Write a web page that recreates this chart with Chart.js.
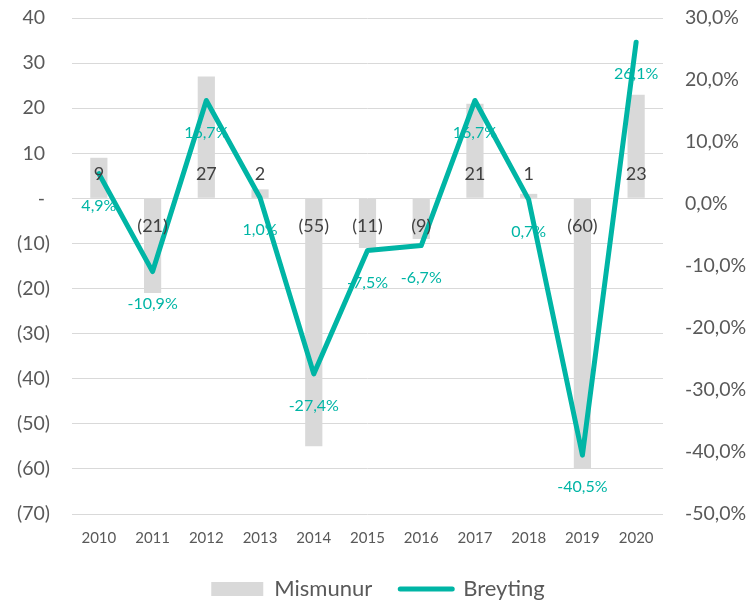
<!DOCTYPE html>
<html>
<head>
<meta charset="utf-8">
<script src="https://cdn.jsdelivr.net/npm/chart.js@4/dist/chart.umd.min.js"></script>
<style>
html,body{margin:0;padding:0;background:#fff;}
#wrap{width:756px;height:601px;}
</style>
</head>
<body>
<div id="wrap"><canvas id="c" width="756" height="601"></canvas></div>
<script>
const categories = ['2010','2011','2012','2013','2014','2015','2016','2017','2018','2019','2020'];
const mismunur = [9, -21, 27, 2, -55, -11, -9, 21, 1, -60, 23];
const breyting = [4.9, -10.9, 16.7, 1.0, -27.4, -7.5, -6.7, 16.7, 0.7, -40.5, 26.1];
const leftTicks = [40, 30, 20, 10, 0, -10, -20, -30, -40, -50, -60, -70];
const rightTicks = [30, 20, 10, 0, -10, -20, -30, -40, -50];

const FONT = 'Lato, "Open Sans", sans-serif';
const TEAL = '#00b5a5';
const GREY_BAR = '#d9d9d9';
const TXT = '#595959';

function fmtLeft(v){
  if (v === 0) return '-';
  if (v < 0) return '(' + Math.abs(v) + ')';
  return String(v);
}
function fmtLeftAxis(v){
  // accounting style: non-negative values leave room for the closing parenthesis
  return v < 0 ? fmtLeft(v) : fmtLeft(v) + ' ';
}
function fmtPct(v){
  return v.toFixed(1).replace('.', ',') + '%';
}

const labelPlugin = {
  id: 'labels',
  afterDatasetsDraw(chart){
    const ctx = chart.ctx;
    const x = chart.scales.x, yl = chart.scales.y, yr = chart.scales.y1;
    const zero = yl.getPixelForValue(0);
    ctx.save();
    ctx.textAlign = 'center';
    ctx.textBaseline = 'middle';
    ctx.font = '18px ' + FONT;
    ctx.fillStyle = '#404040';
    mismunur.forEach((v, i) => {
      const px = x.getPixelForValue(i);
      const py = v >= 0 ? zero - 24 : zero + 28;
      ctx.fillText(fmtLeft(v), px, py);
    });
    ctx.font = '16px ' + FONT;
    ctx.fillStyle = TEAL;
    breyting.forEach((v, i) => {
      const px = x.getPixelForValue(i);
      const py = yr.getPixelForValue(v) + 32;
      ctx.fillText(fmtPct(v), px, py);
    });
    ctx.restore();
  }
};

function fixY(width){
  return function(s){ s.width = width; s.paddingTop = 0; s.paddingBottom = 0; };
}

new Chart(document.getElementById('c'), {
  data: {
    labels: categories,
    datasets: [
      {
        type: 'line',
        label: 'Breyting',
        data: breyting,
        yAxisID: 'y1',
        borderColor: TEAL,
        backgroundColor: TEAL,
        borderWidth: 5,
        pointRadius: 0,
        tension: 0,
        borderCapStyle: 'round',
        borderJoinStyle: 'round',
        order: 0
      },
      {
        type: 'bar',
        label: 'Mismunur',
        data: mismunur,
        yAxisID: 'y',
        backgroundColor: GREY_BAR,
        categoryPercentage: 1.0,
        barPercentage: 0.32,
        order: 1
      }
    ]
  },
  options: {
    responsive: false,
    animation: false,
    devicePixelRatio: 1,
    layout: { padding: { top: 18, bottom: -9, left: 0, right: 0 } },
    plugins: {
      tooltip: { enabled: false },
      legend: {
        position: 'bottom',
        reverse: true,
        labels: {
          font: { family: FONT, size: 22 },
          color: TXT,
          usePointStyle: true,
          pointStyleWidth: 52,
          boxHeight: 14,
          padding: 28,
          generateLabels(chart){
            return [
              { text: 'Breyting', datasetIndex: 0, pointStyle: 'line', strokeStyle: TEAL, fillStyle: TEAL, lineWidth: 5, lineCap: 'round', fontColor: TXT, hidden: false },
              { text: 'Mismunur', datasetIndex: 1, pointStyle: 'rect', strokeStyle: GREY_BAR, fillStyle: GREY_BAR, lineWidth: 0, fontColor: TXT, hidden: false }
            ];
          }
        }
      }
    },
    scales: {
      x: {
        grid: { display: false },
        border: { display: false },
        ticks: { font: { family: FONT, size: 15 }, color: TXT, padding: 7, maxRotation: 0 },
        afterFit(s){ s.height -= 4; }
      },
      y: {
        position: 'left',
        min: -70, max: 40,
        grid: { color: '#d9d9d9', lineWidth: 1, drawTicks: false },
        border: { display: false },
        ticks: { stepSize: 10, font: { family: FONT, size: 19.5 }, color: TXT, padding: 22, callback: v => fmtLeftAxis(v) },
        afterBuildTicks(s){ s.ticks = leftTicks.slice().reverse().map(v => ({ value: v })); },
        afterFit: fixY(72)
      },
      y1: {
        position: 'right',
        min: -50, max: 30,
        grid: { display: false, drawTicks: false },
        border: { display: false },
        ticks: { stepSize: 10, font: { family: FONT, size: 19.5 }, color: TXT, padding: 22, callback: v => fmtPct(v) },
        afterBuildTicks(s){ s.ticks = rightTicks.slice().reverse().map(v => ({ value: v })); },
        afterFit: fixY(93)
      }
    }
  },
  plugins: [labelPlugin]
});
</script>
</body>
</html>
